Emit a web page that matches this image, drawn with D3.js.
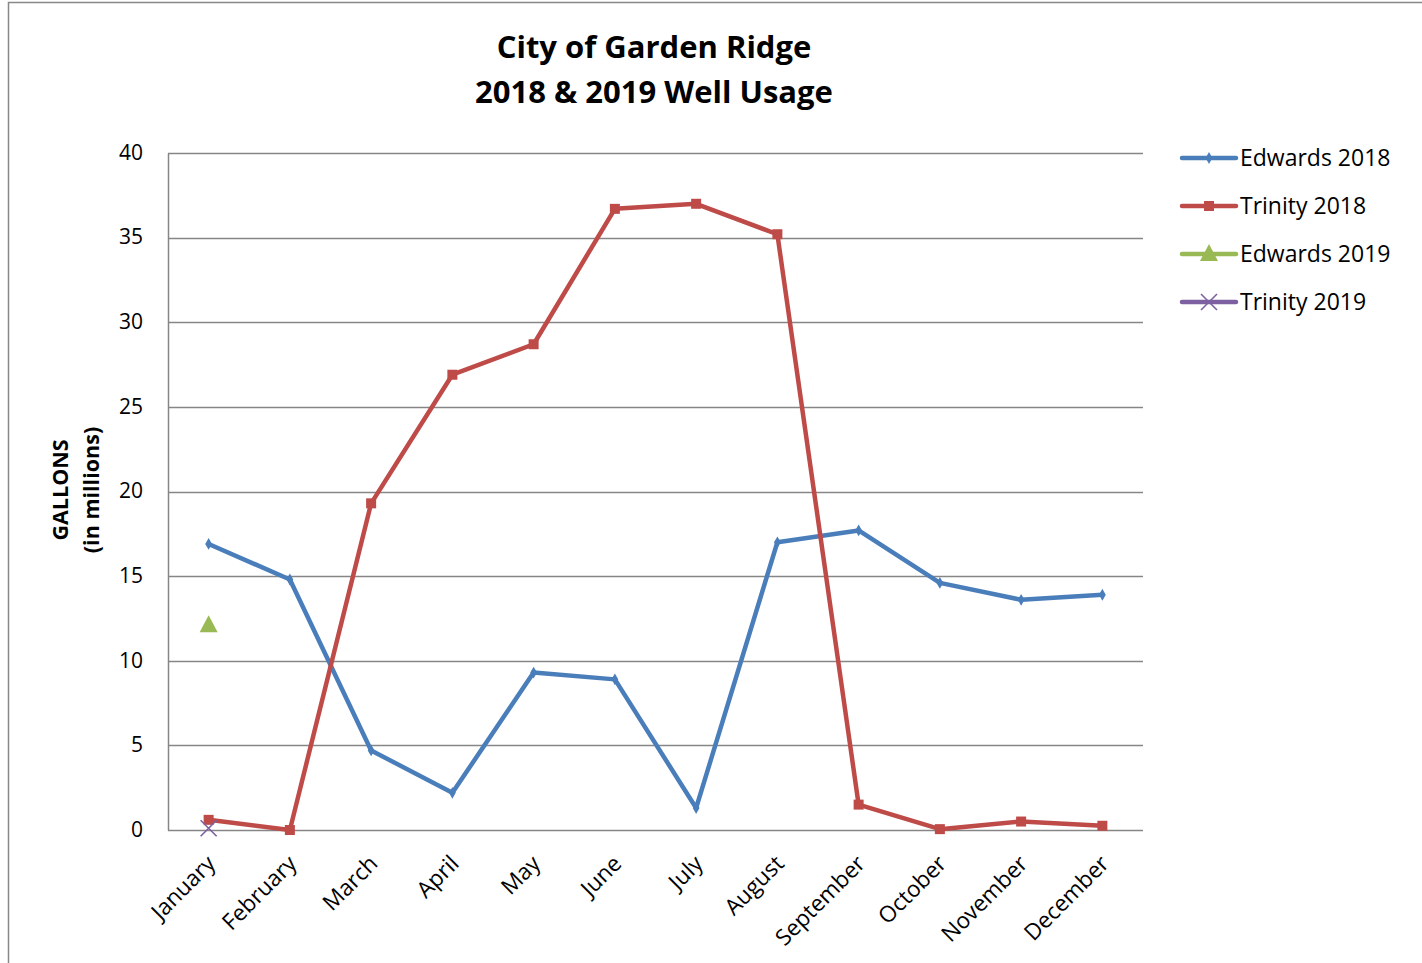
<!DOCTYPE html>
<html>
<head>
<meta charset="utf-8">
<script src="https://cdn.jsdelivr.net/npm/d3@7"></script>
<style>
  body { margin: 0; background: #fff; }
  svg text { font-family: "Open Sans", "Noto Sans", sans-serif; fill: #000; }
</style>
</head>
<body>
<div id="chart"></div>
<script>
// Data
var months = ["January", "February", "March", "April", "May", "June",
  "July", "August", "September", "October", "November", "December"];
var edwards2018 = [16.9, 14.8, 4.7, 2.2, 9.3, 8.9, 1.3, 17.0, 17.7, 14.6, 13.6, 13.9];
var trinity2018 = [0.6, 0.0, 19.3, 26.9, 28.7, 36.7, 37.0, 35.2, 1.5, 0.05, 0.5, 0.25];
var edwards2019 = [12.1];
var trinity2019 = [0.1];
var yTicks = [0, 5, 10, 15, 20, 25, 30, 35, 40];

var series = [
  { name: "Edwards 2018", values: edwards2018, color: "#4A7EBB", marker: "diamond" },
  { name: "Trinity 2018", values: trinity2018, color: "#BE4B48", marker: "square" },
  { name: "Edwards 2019", values: edwards2019, color: "#98B954", marker: "triangle" },
  { name: "Trinity 2019", values: trinity2019, color: "#7D60A0", marker: "cross" }
];

var W = 1422, H = 963;
var margin = { top: 153, right: 279, bottom: 133, left: 168 },
  width = W - margin.left - margin.right,
  height = H - margin.top - margin.bottom;

var svg = d3.select("#chart")
  .append("svg")
  .attr("width", W)
  .attr("height", H);

// outer frame
svg.append("rect")
  .attr("x", 8.5).attr("y", 2.5)
  .attr("width", W + 10).attr("height", H + 10)
  .attr("fill", "none").attr("stroke", "#888").attr("stroke-width", 1.5);

// Title
svg.append("text")
  .attr("x", 654).attr("y", 58)
  .attr("text-anchor", "middle")
  .style("font-size", "31px").style("font-weight", "bold")
  .text("City of Garden Ridge");
svg.append("text")
  .attr("x", 654).attr("y", 103)
  .attr("text-anchor", "middle")
  .style("font-size", "31px").style("font-weight", "bold")
  .text("2018 & 2019 Well Usage");

var g = svg.append("g")
  .attr("transform", "translate(" + margin.left + "," + margin.top + ")");

// Scales
var x = d3.scaleBand()
  .domain(months)
  .range([0, width]);
var y = d3.scaleLinear()
  .domain([0, 40])
  .range([height, 0]);
var cx = function(i) { return x(months[i]) + x.bandwidth() / 2; };

// Gridlines
g.append("g")
  .selectAll("line")
  .data(yTicks)
  .enter().append("line")
  .attr("x1", 0).attr("x2", width)
  .attr("y1", function(d) { return Math.round(y(d)) + 0.5; })
  .attr("y2", function(d) { return Math.round(y(d)) + 0.5; })
  .attr("stroke", "#868686").attr("stroke-width", 1.5);

// Y axis
var yAxis = g.append("g")
  .call(d3.axisLeft(y).tickValues(yTicks).tickSize(0).tickPadding(25));
yAxis.select(".domain").attr("stroke", "#868686").attr("stroke-width", 1.5);
yAxis.selectAll("text").style("font-size", "21px").attr("dy", "0.3em");

// X axis
var xAxis = g.append("g")
  .attr("transform", "translate(0," + height + ")")
  .call(d3.axisBottom(x).tickSize(0).tickPadding(0));
xAxis.select(".domain").remove();
xAxis.selectAll("text")
  .style("font-size", "22.5px")
  .attr("text-anchor", "end")
  .attr("dy", null)
  .attr("transform", "translate(8,35) rotate(-45)");

// Y axis title
var yTitle = svg.append("text")
  .attr("transform", "translate(68,490) rotate(-90)")
  .attr("text-anchor", "middle")
  .style("font-size", "21.5px").style("font-weight", "bold");
yTitle.append("tspan").attr("x", 0).attr("dy", 0).text("GALLONS");
yTitle.append("tspan").attr("x", 0).attr("dy", 31).text("(in millions)");

// Markers
function drawMarker(sel, type, color) {
  if (type === "diamond") {
    sel.append("path").attr("d", d3.symbol().type(d3.symbolDiamond).size(40)())
      .attr("fill", color);
  } else if (type === "square") {
    sel.append("rect").attr("x", -5).attr("y", -5).attr("width", 10).attr("height", 10)
      .attr("fill", color);
  } else if (type === "triangle") {
    sel.append("path").attr("d", "M0,-10L9,7L-9,7Z").attr("fill", color);
  } else if (type === "cross") {
    sel.append("path").attr("d", "M-8,-8L8,8M-8,8L8,-8")
      .attr("stroke", color).attr("stroke-width", 1.6).attr("fill", "none");
  }
}

var line = d3.line()
  .x(function(d, i) { return cx(i); })
  .y(function(d) { return y(d); });

series.forEach(function(s) {
  if (s.values.length > 1) {
    g.append("path")
      .datum(s.values)
      .attr("d", line)
      .attr("fill", "none")
      .attr("stroke", s.color)
      .attr("stroke-width", 4.5)
      .attr("stroke-linejoin", "round");
  }
  g.append("g")
    .selectAll("g")
    .data(s.values)
    .enter().append("g")
    .attr("transform", function(d, i) { return "translate(" + cx(i) + "," + y(d) + ")"; })
    .each(function() { drawMarker(d3.select(this), s.marker, s.color); });
});

// Legend
var legend = svg.append("g").attr("transform", "translate(1182,158)");
series.forEach(function(s, i) {
  var row = legend.append("g").attr("transform", "translate(0," + (i * 48) + ")");
  row.append("line")
    .attr("x1", 0).attr("x2", 54).attr("y1", 0).attr("y2", 0)
    .attr("stroke", s.color).attr("stroke-width", 4.5).attr("stroke-linecap", "round");
  var m = row.append("g").attr("transform", "translate(27,0)");
  drawMarker(m, s.marker, s.color);
  row.append("text")
    .attr("x", 58).attr("y", 0).attr("dy", "0.35em")
    .style("font-size", "23px")
    .text(s.name);
});
</script>
</body>
</html>
